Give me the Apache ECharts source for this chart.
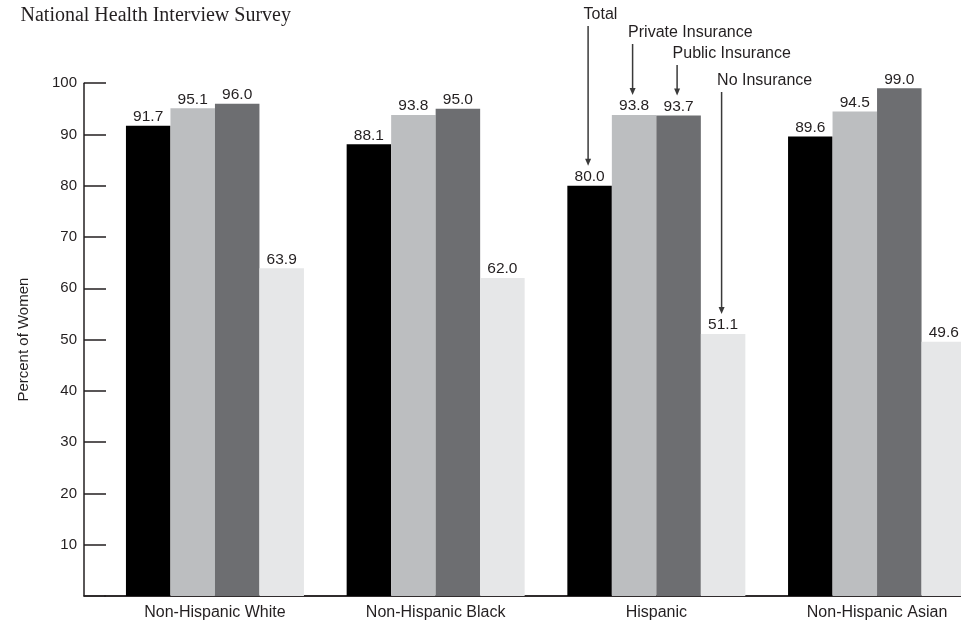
<!DOCTYPE html>
<html>
<head>
<meta charset="utf-8">
<script src="https://cdn.jsdelivr.net/npm/echarts@6/dist/echarts.min.js"></script>
<style>
  html, body { margin: 0; padding: 0; background: #ffffff; overflow: hidden; width: 961px; height: 621px; }
  #chart { width: 1000px; height: 621px; }
</style>
</head>
<body>
<div id="chart"></div>
<script>
// ---- data ----
const categories = ['Non-Hispanic White', 'Non-Hispanic Black', 'Hispanic', 'Non-Hispanic Asian'];
const seriesNames = ['Total', 'Private Insurance', 'Public Insurance', 'No Insurance'];
const totalValues   = [91.7, 88.1, 80.0, 89.6];
const privateValues = [95.1, 93.8, 93.8, 94.5];
const publicValues  = [96.0, 95.0, 93.7, 99.0];
const noneValues    = [63.9, 62.0, 51.1, 49.6];
const yTickLabels   = ['10', '20', '30', '40', '50', '60', '70', '80', '90', '100'];
const titleText = 'National Health Interview Survey';
const yAxisTitle = 'Percent of Women';
const annotatedCategory = 'Hispanic';

// ---- styling / layout ----
const colors = ['#000000', '#bcbec0', '#6d6e71', '#e6e7e8'];
const textColor = '#231f20';
const sans = '"Liberation Sans", Arial, Helvetica, sans-serif';
const barW = 44.5;
const gridTop = 83.2, gridBottom = 25, gridLeft = 104.6, bandW = 220.7;
const annotTextY = [15, 33, 54, 81];

const chart = echarts.init(document.getElementById('chart'), null, { renderer: 'canvas', width: 1000, height: 621 });
const allValues = [totalValues, privateValues, publicValues, noneValues];

const option = {
  animation: false,
  backgroundColor: '#ffffff',
  title: {
    text: titleText,
    left: 15.5, top: 1,
    textStyle: { fontFamily: '"Liberation Serif", "Times New Roman", serif', fontSize: 20, fontWeight: 'normal', color: textColor }
  },
  grid: [
    { left: gridLeft, top: gridTop, bottom: gridBottom, width: bandW * categories.length },
    { left: 84, top: gridTop, bottom: gridBottom, width: 910 }
  ],
  xAxis: [
    {
      type: 'category', gridIndex: 0, data: categories,
      axisLine: { show: true, lineStyle: { color: textColor, width: 1.5 } },
      axisTick: { show: false },
      axisLabel: { color: textColor, fontFamily: sans, fontSize: 16, margin: 9, interval: 0 },
      splitLine: { show: false }
    },
    {
      type: 'value', gridIndex: 1, min: 0, max: 1,
      axisLine: { show: true, lineStyle: { color: textColor, width: 1.5 } },
      axisTick: { show: false }, axisLabel: { show: false }, splitLine: { show: false }
    }
  ],
  yAxis: [
    {
      type: 'value', gridIndex: 0, min: 0, max: 100, interval: 10,
      offset: gridLeft - 84,
      name: yAxisTitle, nameLocation: 'middle', nameGap: 53,
      nameTextStyle: { fontFamily: sans, fontSize: 15, color: textColor },
      axisLine: { show: true, lineStyle: { color: textColor, width: 1.5 } },
      axisTick: { show: true, inside: true, length: 22, lineStyle: { color: textColor, width: 1.5 } },
      axisLabel: {
        color: textColor, fontFamily: sans, fontSize: 15, margin: 7,
        formatter: function (v) { const s = String(v); return yTickLabels.indexOf(s) >= 0 ? s : ''; }
      },
      splitLine: { show: false }
    },
    { type: 'value', gridIndex: 1, show: false, min: 0, max: 100 }
  ],
  series: seriesNames.map(function (name, i) {
    return {
      name: name, type: 'bar', xAxisIndex: 0, yAxisIndex: 0,
      data: allValues[i], barWidth: barW, barGap: '0%',
      itemStyle: { color: colors[i] },
      label: {
        show: true, position: 'top', distance: 1,
        color: textColor, fontFamily: sans, fontSize: 15.5,
        formatter: function (p) { return p.value.toFixed(1); }
      }
    };
  })
};
chart.setOption(option);

// ---- annotation arrows for the legend (anchored to the Hispanic bars) ----
const catIdx = categories.indexOf(annotatedCategory);
const elements = [];
seriesNames.forEach(function (name, i) {
  const p = chart.convertToPixel({ xAxisIndex: 0, yAxisIndex: 0 }, [catIdx, allValues[i][catIdx]]);
  const cx = p[0] + (i - 1.5) * barW - 1.5;
  const tipY = p[1] - 20;
  const ty = annotTextY[i];
  const topY = ty + 11;
  elements.push({
    type: 'text', silent: true,
    style: { text: name, x: cx - 4.5, y: ty, font: '16px ' + sans, fill: textColor,
             align: 'left', verticalAlign: 'middle', textAlign: 'left', textVerticalAlign: 'middle' }
  });
  elements.push({
    type: 'line', silent: true,
    shape: { x1: cx, y1: topY, x2: cx, y2: tipY - 5 },
    style: { stroke: '#3a3a3a', lineWidth: 1.5 }
  });
  elements.push({
    type: 'polygon', silent: true,
    shape: { points: [[cx, tipY], [cx - 3, tipY - 7], [cx + 3, tipY - 7]] },
    style: { fill: '#3a3a3a' }
  });
});
chart.setOption({ graphic: { elements: elements } });
</script>
</body>
</html>
